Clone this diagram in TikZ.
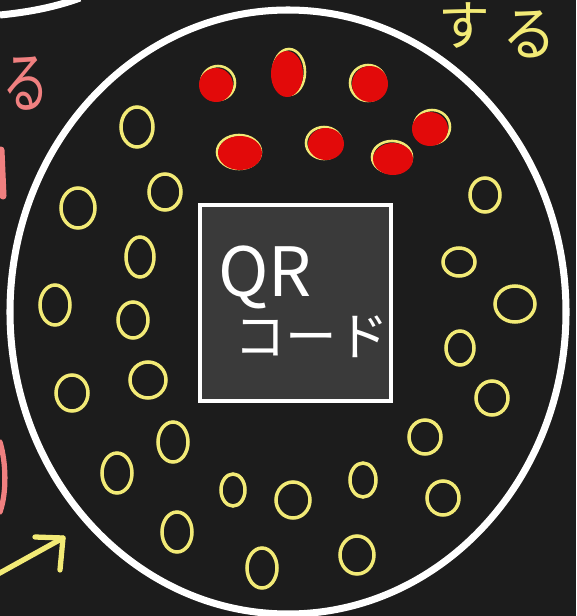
\documentclass[tikz,border=0pt]{standalone}
\usepackage{fontspec}
\newfontfamily\jpfont{Noto Sans CJK JP}
\usetikzlibrary{positioning}
\definecolor{BoardBlack}{RGB}{28,28,28}
\definecolor{BoxGray}{RGB}{58,58,58}
\definecolor{ChalkYellow}{RGB}{242,234,118}
\definecolor{DotRed}{RGB}{226,10,10}
\definecolor{ChalkPink}{RGB}{240,128,128}

\begin{document}
\begin{tikzpicture}[
    x=0.03cm, y=-0.03cm,
    outline/.style={draw=white, line width=6pt},
    ring/.style={draw=ChalkYellow, line width=3pt},
    dotrim/.style={draw=ChalkYellow, line width=2.2pt},
    dotfill/.style={fill=DotRed},
    chalk/.style={line width=4.5pt, line cap=round, line join=round},
    qrbox/.style={rectangle, draw=white, line width=3.8pt, fill=BoxGray,
                  minimum width=5.73cm, minimum height=5.88cm},
    boxtext/.style={text=white, anchor=west, font=\jpfont}
]

\useasboundingbox (0,0) rectangle (576,616);
\clip (0,0) rectangle (576,616);
\fill[BoardBlack] (0,0) rectangle (576,616);

% circles
\draw[outline] (288,312) ellipse [x radius=278, y radius=302];
\draw[outline] (0,15) .. controls (30,12) and (55,7) .. (80,-2);

% qr code box
\node[qrbox] (qr) at (295.5,303) {};
\node[boxtext, font=\jpfont\fontsize{58}{58}\selectfont] (qrlabel) at (214,277) {QR};
\node[boxtext, font=\jpfont\fontsize{44}{44}\selectfont] (codelabel) at (230,337) {コード};

% seeds around the box
\foreach \x/\y/\rx/\ry in {137/127/16/20, 165/192/16/18, 78/208/17/20, 140/257/14/20,
    55/305/15/20, 133/320/15/18, 72/393/16/18, 148/380/18/18, 173/442/15/20,
    117/473/15/20, 177/532/15/20, 233/490/12/16, 262/568/15/20, 293/500/17/18,
    363/480/13/17, 357/555/17/19, 443/498/16/17, 425/437/16/17,
    485/195/15/17, 459/262/16/14, 515/304/20/18, 460/348/14/17, 492/398/16/17}
    \draw[ring] (\x,\y) ellipse [x radius=\rx, y radius=\ry];

% red seeds
\foreach \x/\y/\rx/\ry/\dx/\dy in {218/83/17/17/-2/2, 289/72/16/23/-2/2, 368/83/18/18/2/1,
    239/152/22/17/1/1, 324/143/18/16/2/1, 392/157/20/16/1/2, 432/127/18/17/-2/2} {
    \draw[dotrim] (\x,\y) ellipse [x radius=\rx, y radius=\ry];
    \fill[dotfill] (\x+\dx,\y+\dy) ellipse [x radius=\rx, y radius=\ry];
}

% handwriting at the edges
\node[text=ChalkPink, font=\jpfont\fontsize{50}{50}\selectfont, xscale=0.8, yscale=1.15] (leftmark) at (26,84) {る};
\node[text=ChalkYellow, font=\jpfont\fontsize{44}{44}\selectfont, yscale=1.05] (su) at (464,26) {す};
\node[text=ChalkYellow, font=\jpfont\fontsize{46}{46}\selectfont, yscale=1.1] (ru) at (529,34) {る};
\draw[ChalkPink, chalk, line width=6pt] (1,150) -- (3,196);
\draw[ChalkPink, chalk] (0,442) .. controls (6,462) and (7,492) .. (0,512);

% arrow
\draw[ChalkYellow, chalk] (-2,574) -- (63,538);
\draw[ChalkYellow, chalk] (35,537) -- (63,538) -- (60,570);

\end{tikzpicture}
\end{document}
